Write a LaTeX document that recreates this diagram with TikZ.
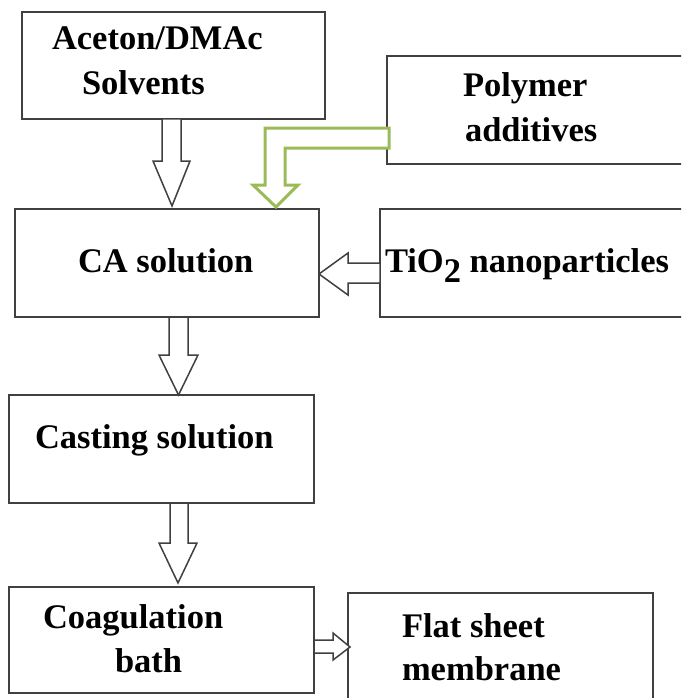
\documentclass[tikz,border=0pt]{standalone}
\usepackage{fontspec}
\setmainfont{Liberation Serif}
\definecolor{linegray}{HTML}{404040}
\definecolor{arrowgreen}{HTML}{9BBB59}
\begin{document}
\begin{tikzpicture}[x=1pt,y=-1pt,
  box/.style={draw=linegray, line width=1.5pt, inner sep=0pt, outer sep=0pt, anchor=north west},
  lbl/.style={inner sep=0pt, outer sep=0pt, anchor=base west, font=\bfseries\fontsize{34.5}{40}\selectfont},
  blk/.style={draw=linegray, line width=1.5pt, fill=white, line join=miter},
  grn/.style={draw=arrowgreen, line width=3pt, fill=white, line join=miter}]
\useasboundingbox (0,0) rectangle (681,698);
\clip (0,0) rectangle (681,698);

% boxes
\node[box, minimum width=303pt, minimum height=107pt] (sol)  at (22,12)  {};
\node[box, minimum width=303pt, minimum height=108pt] (poly) at (387,56) {};
\node[box, minimum width=304pt, minimum height=108pt] (ca)   at (15,209) {};
\node[box, minimum width=310pt, minimum height=108pt] (tio)  at (380,209) {};
\node[box, minimum width=305pt, minimum height=108pt] (cast) at (9,395)  {};
\node[box, minimum width=305pt, minimum height=106pt] (coag) at (9,587)  {};
\node[box, minimum width=305pt, minimum height=117pt] (flat) at (348,593) {};

% labels
\node[lbl] (t1a) at (52,50)   {Aceton/DMAc};
\node[lbl] (t1b) at (82,95)   {Solvents};
\node[lbl] (t2a) at (463,97)  {Polymer};
\node[lbl] (t2b) at (465,142) {additives};
\node[lbl] (t3)  at (78,272)  {CA solution};
\node[lbl] (t4)  at (385,272) {TiO\raisebox{-10pt}{2} nanoparticles};
\node[lbl] (t5)  at (35,448)  {Casting solution};
\node[lbl] (t6a) at (43,628)  {Coagulation};
\node[lbl] (t6b) at (115,672) {bath};
\node[lbl] (t7a) at (402,637) {Flat sheet};
\node[lbl] (t7b) at (402,680) {membrane};

% block arrows
\draw[blk] (sol.south -| 162,0) -- (162,161) -- (153,161)
  -- ([yshift=3pt]ca.north -| 172,0) -- (190,161) -- (181,161) -- (sol.south -| 181,0) -- cycle;
\draw[blk] (ca.south -| 169,0) -- (169,355) -- (159,355)
  -- (cast.north -| 178.5,0) -- (198,355) -- (188,355) -- (ca.south -| 188,0) -- cycle;
\draw[blk] (cast.south -| 170,0) -- (170,543) -- (159,543)
  -- ([yshift=4pt]coag.north -| 178,0) -- (197,543) -- (188,543) -- (cast.south -| 188,0) -- cycle;
\draw[blk] (tio.west |- 0,263) -- (348,263) -- (348,253)
  -- (ca.east |- 0,274) -- (348,295) -- (348,283) -- (tio.west |- 0,283) -- cycle;
\draw[blk] (coag.east |- 0,640) -- (333,640) -- (333,633)
  -- ([xshift=2pt]flat.west |- 0,647) -- (333,660) -- (333,653) -- (coag.east |- 0,653) -- cycle;
% green bent arrow
\draw[grn] ([xshift=2pt]poly.west |- 0,128) -- (265,128) -- (265,185) -- (253,185)
  -- ([yshift=2pt]ca.north -| 276,0) -- (298,185) -- (285,185) -- (285,148)
  -- ([xshift=2pt]poly.west |- 0,148) -- cycle;
\end{tikzpicture}
\end{document}
